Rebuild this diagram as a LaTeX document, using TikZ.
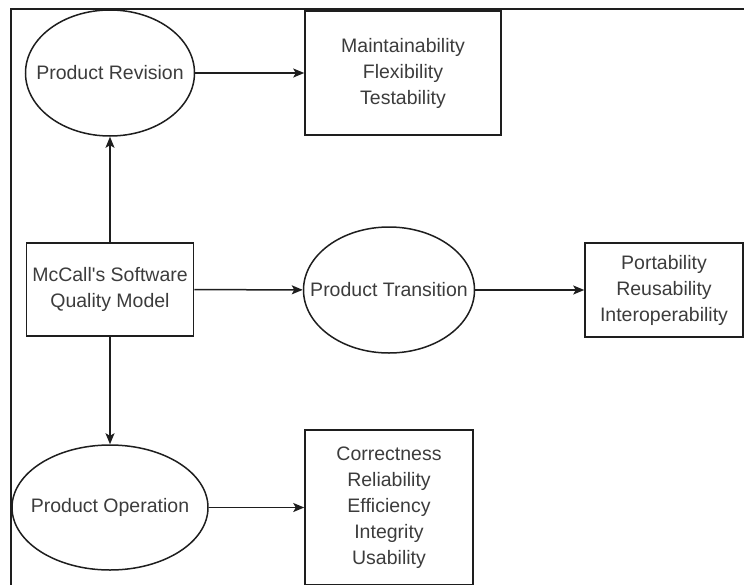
\documentclass[tikz,border=0pt]{standalone}
\usepackage{fontspec}
\newfontfamily\dfont{Liberation Sans}
\usetikzlibrary{shapes.geometric,arrows.meta}
\definecolor{txt}{RGB}{60,60,60}
\definecolor{ln}{RGB}{30,30,30}
\tikzset{
  lbl/.style={inner sep=0pt, align=center, text=txt, font=\dfont\fontsize{19.5}{26}\selectfont},
  base/.style={lbl, draw=ln, line width=1.5pt},
  oval/.style={draw=ln, line width=1.5pt, ellipse, inner sep=0pt},
  box/.style={base, rectangle},
  conn/.style={draw=ln, line width=1.5pt, -{Stealth[length=11pt,width=9pt,inset=2.5pt]}},
  frame/.style={draw=ln, line width=1.5pt}
}
\begin{document}
\begin{tikzpicture}[x=1pt,y=-1pt]
\useasboundingbox (0,0) rectangle (744,584);
\clip (0,0) rectangle (744,584);
\coordinate (ftl) at (11,9);
\coordinate (fbl) at (11,600);
\coordinate (ftr) at (760,9);
\draw[frame] (fbl) -- (ftl) -- (ftr);

\node[oval, minimum width=169pt, minimum height=126pt] (rev) at (110,73) {};
\node[lbl] (revt) at (rev) {Product Revision};
\node[box, minimum width=196pt, minimum height=124pt] (maint) at (403,73) {Maintainability\\Flexibility\\Testability};
\node[box, minimum width=167pt, minimum height=93pt] (mc) at (110,289.5) {McCall's Software\\Quality Model};
\node[oval, minimum width=171pt, minimum height=126pt] (trans) at (389,290) {};
\node[lbl] (transt) at (trans) {Product Transition};
\node[box, minimum width=158pt, minimum height=94pt] (port) at (664,290) {Portability\\Reusability\\Interoperability};
\node[oval, minimum width=196pt, minimum height=125pt] (oper) at (110,507.5) {};
\node[lbl] (opert) at (oper) {Product Operation};
\node[box, minimum width=168pt, minimum height=155pt] (corr) at (389,507.5) {Correctness\\Reliability\\Efficiency\\Integrity\\Usability};

\draw[conn] (rev) -- (maint);
\draw[conn] (mc) -- (rev);
\draw[conn] (mc) -- (trans);
\draw[conn] (trans) -- (port);
\draw[conn] (mc) -- (oper);
\draw[conn] (oper) -- (corr);
\end{tikzpicture}
\end{document}
